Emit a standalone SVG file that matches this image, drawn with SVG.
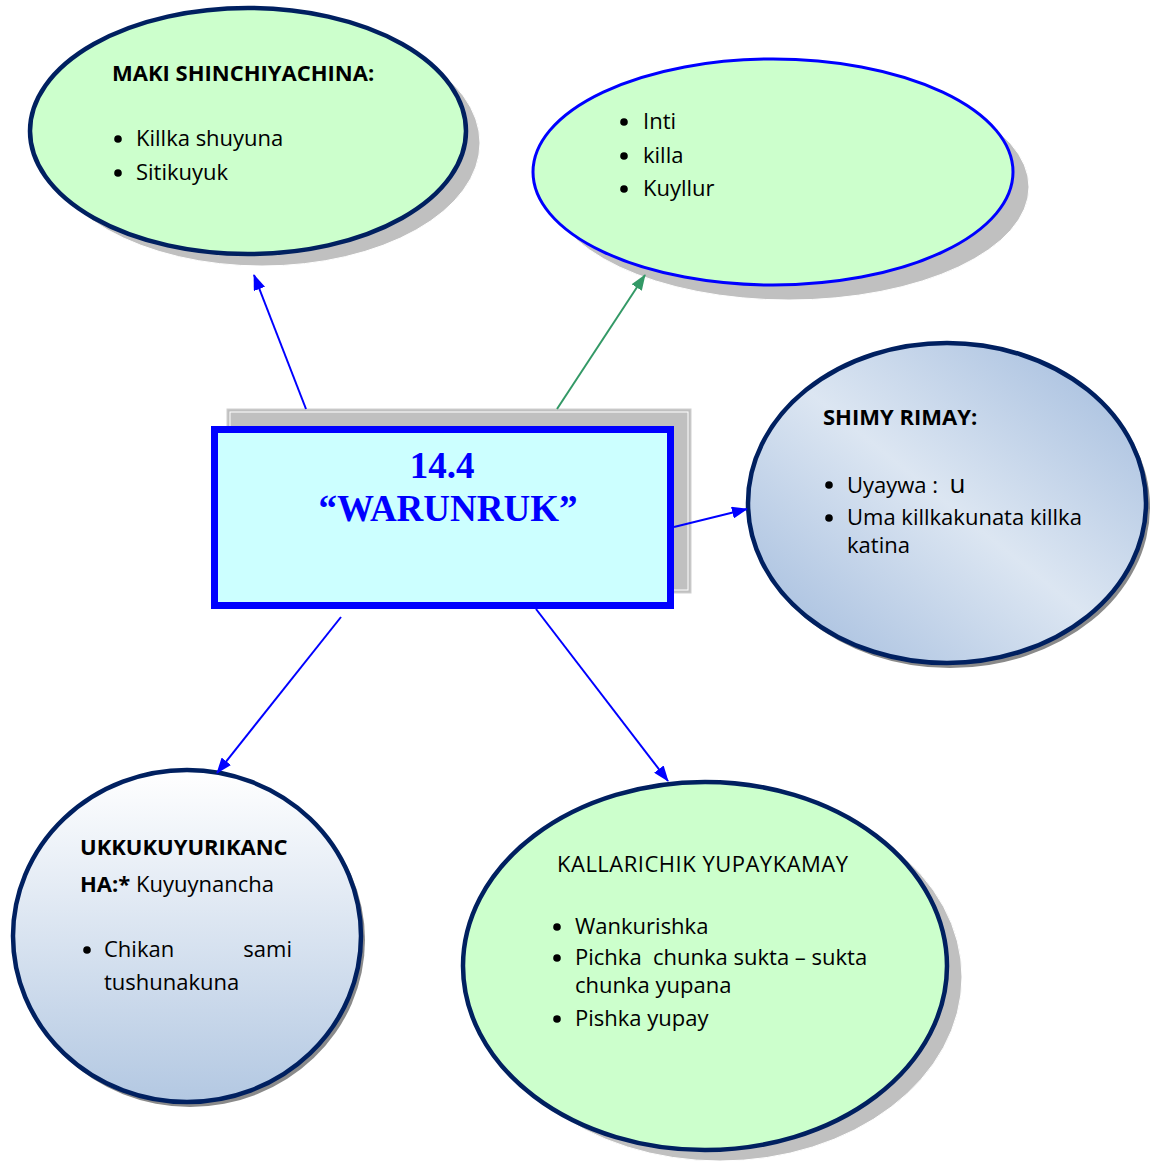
<svg xmlns="http://www.w3.org/2000/svg" width="1150" height="1162" viewBox="0 0 1150 1162">
<style>
.t{font-family:"Open Sans","Noto Sans",sans-serif;font-size:22px;fill:#000}
.b{font-weight:bold}
.shadow{fill:#c0c0c0;stroke:#fff;stroke-width:1}
.navy{stroke:#002060;stroke-width:4.5}
.green{fill:#ccffcc}
.conn{stroke:#0000ff;stroke-width:2;fill:none;marker-end:url(#ab)}
.title{font-family:"Liberation Serif","Times New Roman",serif;font-weight:bold;font-size:37px;fill:#0000ff;text-anchor:middle}
</style>
<defs>
<marker id="ab" markerWidth="16" markerHeight="12" refX="15" refY="6" orient="auto" markerUnits="userSpaceOnUse"><path d="M0,0 L16,6 L0,12 Z" fill="#0000ff"/></marker>
<marker id="ag" markerWidth="16" markerHeight="12" refX="15" refY="6" orient="auto" markerUnits="userSpaceOnUse"><path d="M0,0 L16,6 L0,12 Z" fill="#339966"/></marker>
<linearGradient id="g3" x1="1" y1="0" x2="0" y2="1"><stop offset="0" stop-color="#9fb9dc"/><stop offset="0.5" stop-color="#dce6f2"/><stop offset="1" stop-color="#9fb9dc"/></linearGradient>
<linearGradient id="g4" x1="0" y1="0" x2="0" y2="1"><stop offset="0" stop-color="#ffffff"/><stop offset="1" stop-color="#b3c8e2"/></linearGradient>
</defs>

<g id="node-maki">
<ellipse class="shadow" cx="262" cy="143" rx="218" ry="123"/>
<ellipse class="green navy" cx="248" cy="131" rx="218" ry="123"/>
<text class="t b" x="112" y="81">MAKI SHINCHIYACHINA:</text>
<circle cx="118" cy="139" r="3.8"/><text class="t" x="136" y="146">Killka shuyuna</text>
<circle cx="118" cy="173" r="3.8"/><text class="t" x="136" y="180">Sitikuyuk</text>
</g>

<g id="node-inti">
<ellipse class="shadow" cx="789" cy="187" rx="240" ry="113"/>
<ellipse class="green" cx="773" cy="172" rx="240" ry="113" stroke="#0000ff" stroke-width="3"/>
<circle cx="624" cy="122" r="3.8"/><text class="t" x="643" y="129">Inti</text>
<circle cx="624" cy="156" r="3.8"/><text class="t" x="643" y="163">killa</text>
<circle cx="624" cy="189" r="3.8"/><text class="t" x="643" y="196">Kuyllur</text>
</g>

<g id="node-center">
<rect x="227" y="409" width="464" height="184" fill="#c0c0c0" stroke="#d0d0d0" stroke-width="1"/>
<rect x="230" y="412" width="458" height="178" fill="none" stroke="#ffffff" stroke-width="1"/>
<rect x="214.5" y="429.5" width="456" height="176" fill="#ccffff" stroke="#0000ff" stroke-width="7"/>
<text class="title" x="442" y="478">14.4</text>
<text class="title" x="448" y="521">“WARUNRUK”</text>
</g>

<g id="node-shimy">
<ellipse cx="950" cy="507" rx="200" ry="161" fill="#8a8a8a"/>
<ellipse class="navy" cx="947" cy="503" rx="199" ry="160" fill="url(#g3)"/>
<text class="t b" x="823" y="425">SHIMY RIMAY:</text>
<circle cx="829" cy="485" r="3.8"/><text class="t" x="847" y="493" xml:space="preserve">Uyaywa :  <tspan font-size="26">u</tspan></text>
<circle cx="829" cy="518" r="3.8"/><text class="t" x="847" y="525">Uma killkakunata killka</text>
<text class="t" x="847" y="553">katina</text>
</g>

<g id="node-ukku">
<ellipse cx="190" cy="940" rx="175" ry="167" fill="#8a8a8a"/>
<ellipse class="navy" cx="187" cy="936" rx="174" ry="166" fill="url(#g4)"/>
<text class="t b" x="80" y="855">UKKUKUYURIKANC</text>
<text class="t" x="80" y="892"><tspan class="b">HA:*</tspan> Kuyuynancha</text>
<circle cx="87" cy="950" r="3.8"/><text class="t" x="104" y="957">Chikan</text>
<text class="t" x="292" y="957" text-anchor="end">sami</text>
<text class="t" x="104" y="990">tushunakuna</text>
</g>

<g id="node-kallarichik">
<ellipse class="shadow" cx="720" cy="977" rx="242" ry="184"/>
<ellipse class="green navy" cx="705" cy="966" rx="242" ry="184"/>
<text class="t" x="557" y="872" letter-spacing="0.5">KALLARICHIK YUPAYKAMAY</text>
<circle cx="557" cy="927" r="3.8"/><text class="t" x="575" y="934">Wankurishka</text>
<circle cx="557" cy="958" r="3.8"/><text class="t" x="575" y="965" xml:space="preserve">Pichka  chunka sukta – sukta</text>
<text class="t" x="575" y="993">chunka yupana</text>
<circle cx="557" cy="1019" r="3.8"/><text class="t" x="575" y="1026">Pishka yupay</text>
</g>

<g id="connectors">
<line class="conn" x1="306" y1="409" x2="254" y2="275"/>
<line x1="557" y1="409" x2="645" y2="275" stroke="#339966" stroke-width="2" marker-end="url(#ag)"/>
<line class="conn" x1="674" y1="527" x2="747" y2="509"/>
<line class="conn" x1="341" y1="617" x2="217" y2="773"/>
<line class="conn" x1="536" y1="609" x2="668" y2="781"/>
</g>
</svg>
